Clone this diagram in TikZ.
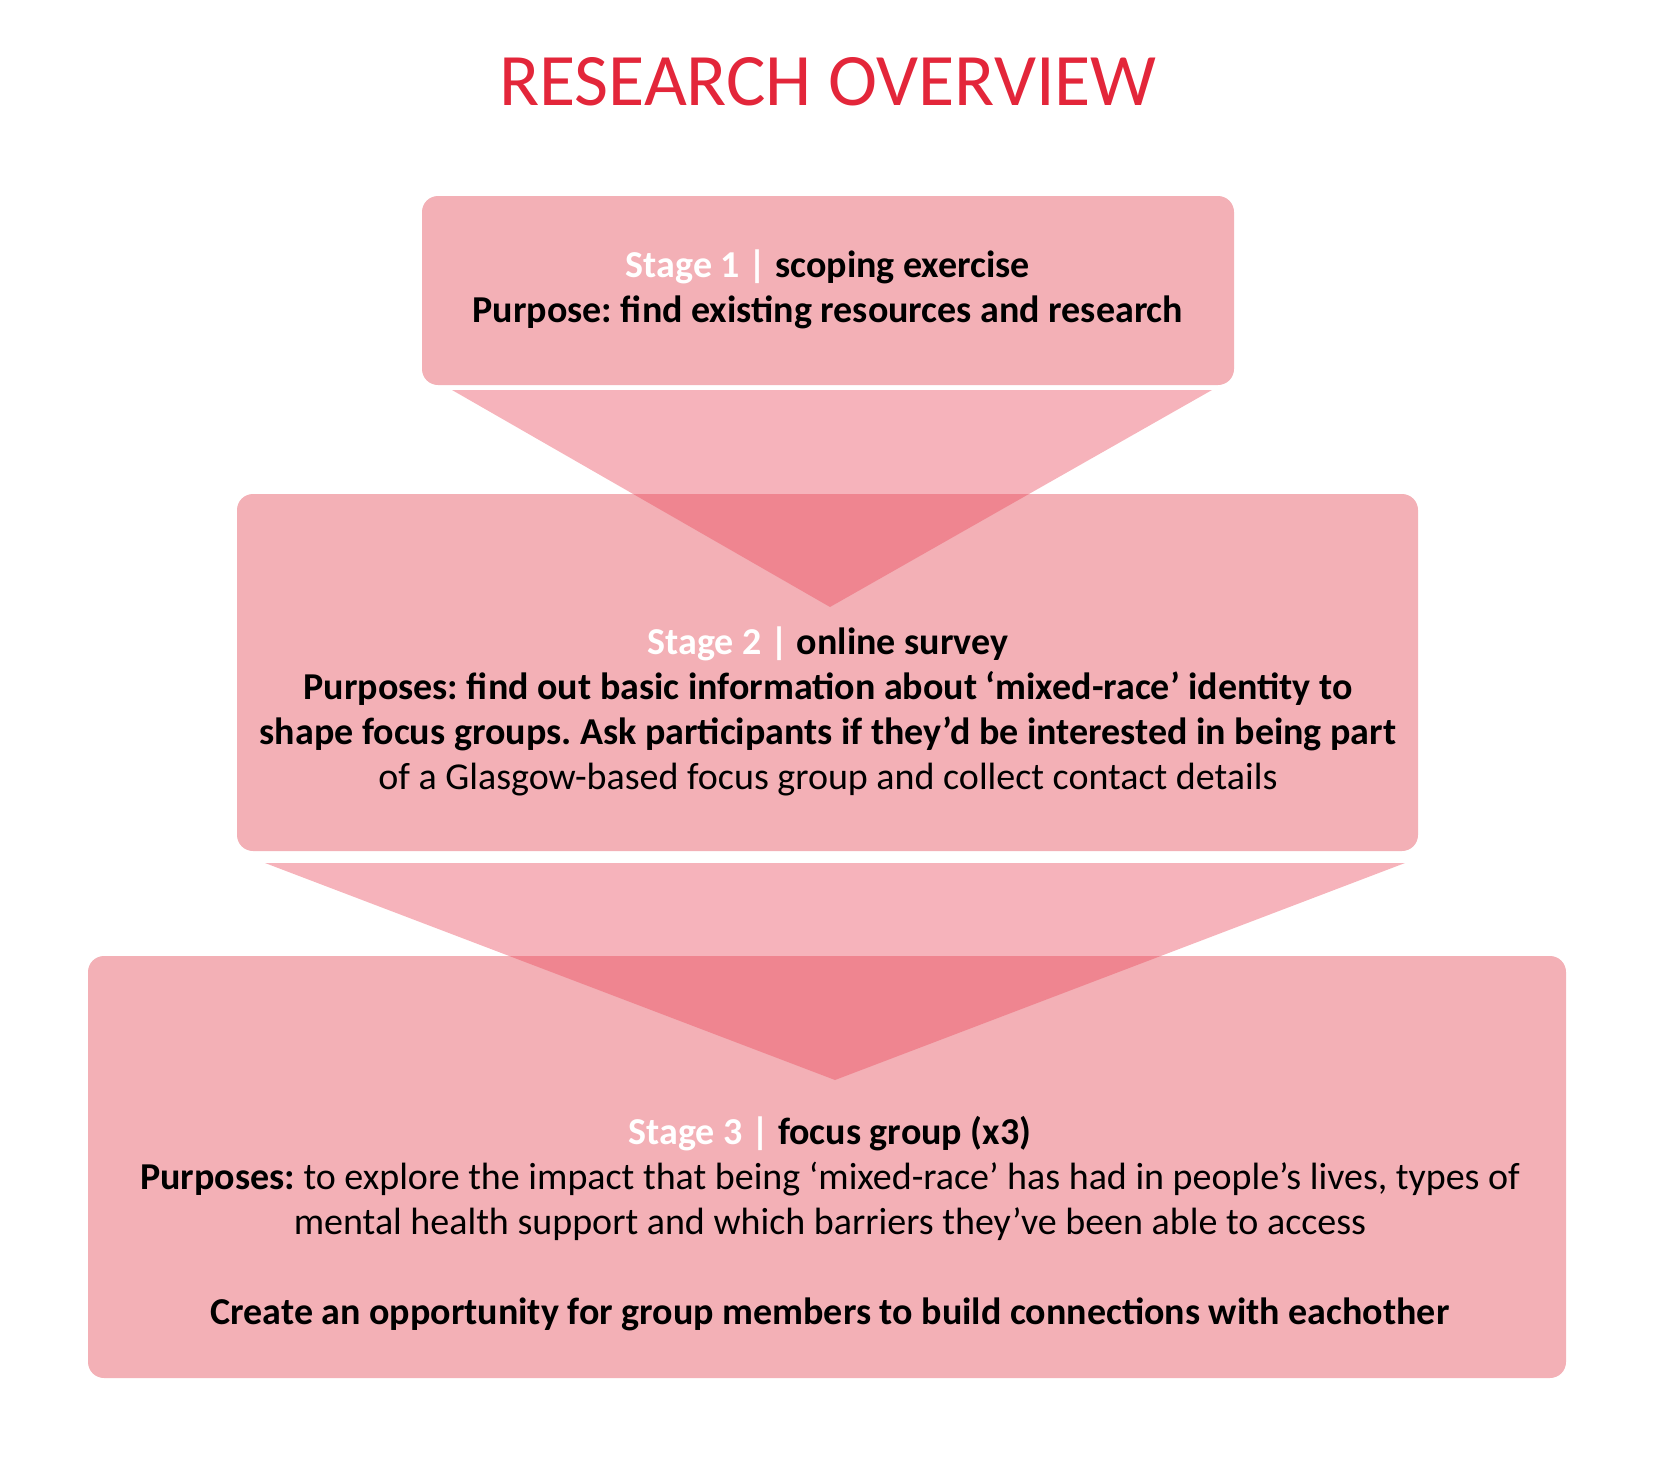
\documentclass[tikz,border=0pt]{standalone}
\usepackage{fontspec}
\setmainfont{Carlito}
\usetikzlibrary{positioning}
\definecolor{boxpink}{HTML}{F3B0B6}
\definecolor{funnelred}{HTML}{EA4B5D}
\definecolor{titlered}{HTML}{E3263A}

\begin{document}
\frenchspacing
\begin{tikzpicture}[x=0.5pt, y=-0.5pt,
      stagebox/.style={draw=none, fill=boxpink, rounded corners=8pt, inner sep=0pt},
      funnel/.style={fill=funnelred, fill opacity=0.42},
      stagetext/.style={align=center, font=\fontsize{19}{22.5}\selectfont\bfseries, text=black},
        ]
        \useasboundingbox (0,0) rectangle (1654,1461);

        % Title
        \node (title) [font=\fontsize{37}{40}\selectfont, text=titlered] at (828,82) {RESEARCH OVERVIEW};

        % Stage boxes
        \node (stage1) [stagebox, minimum width=406pt, minimum height=94.5pt] at (828,290.5) {};
        \node (stage2) [stagebox, minimum width=590.5pt, minimum height=178.5pt] at (827.5,672.5) {};
        \node (stage3) [stagebox, minimum width=739pt, minimum height=211pt] at (827,1167) {};

        % Funnels between stages
        \fill [funnel] (452,390) -- (1212,390) -- (830,607) -- cycle;
        \fill [funnel] (265,863) -- (1405,863) -- (835,1080) -- cycle;

        % Stage texts
        \node (text1) [stagetext] at (828,289) {%
          {\color{white}Stage 1 |} scoping exercise\\
          Purpose: find existing resources and research};
        \node (text2) [stagetext] at (828,711) {%
          {\color{white}Stage 2 |} online survey\\
          Purposes: find out basic information about ‘mixed-race’ identity to\\
          shape focus groups. Ask participants if they’d be interested in being part\\
          \mdseries of a Glasgow-based focus group and collect contact details};
        \node (text3) [stagetext] at (830,1224) {%
          {\color{white}Stage 3 |} focus group (x3)\\
          Purposes: {\mdseries to explore the impact that being ‘mixed-race’ has had in people’s lives, types of}\\
          \mdseries mental health support and which barriers they’ve been able to access\\[22.5pt]
          Create an opportunity for group members to build connections with eachother};

\end{tikzpicture}
\end{document}
